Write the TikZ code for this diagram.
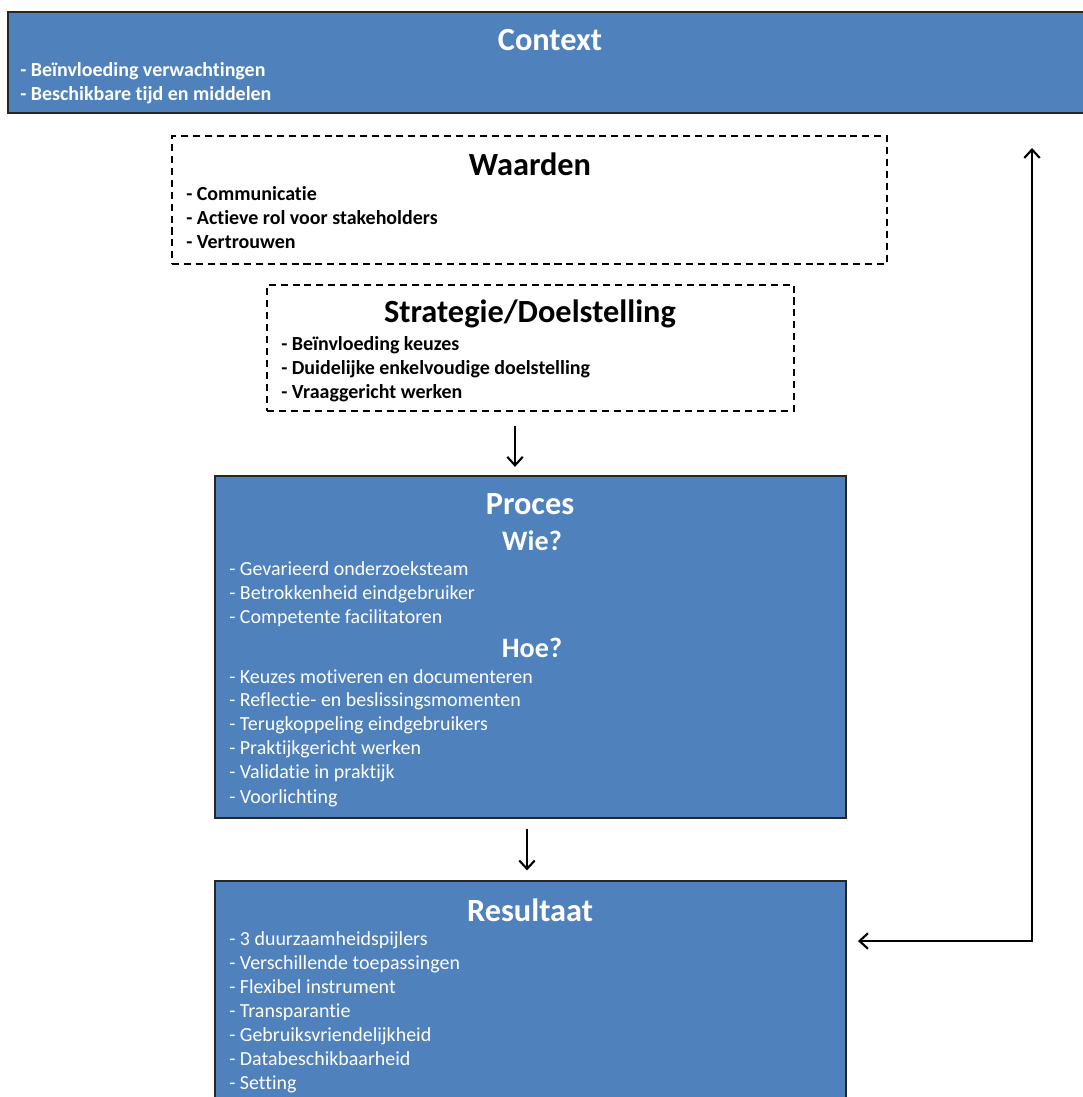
\documentclass[tikz,border=0pt]{standalone}
\usepackage{fontspec}
\setmainfont{Carlito}[Ligatures=NoCommon]
\usetikzlibrary{arrows.meta,fit}
\definecolor{boxblue}{HTML}{4F81BD}
\tikzset{
  bluebox/.style={fill=boxblue, draw=black!85, line width=1pt, inner sep=0pt},
  dashbox/.style={draw=black, line width=0.9pt, dash pattern=on 5pt off 3.5pt, inner sep=0pt},
  boxtitle/.style={inner sep=0pt, font=\bfseries\fontsize{23}{27}\selectfont},
  subtitle/.style={inner sep=0pt, font=\bfseries\fontsize{20}{24}\selectfont},
  item/.style={anchor=mid west, inner sep=0pt, yshift=-2pt, font=\fontsize{14.2}{17}\selectfont},
  bolditem/.style={item, font=\bfseries\fontsize{14.2}{17}\selectfont},
  flow/.style={-{Straight Barb[length=6pt,width=11pt,line width=1.5pt]}, line width=1.4pt},
}
\begin{document}
\begin{tikzpicture}[x=0.025cm, y=-0.025cm]
\useasboundingbox (0,0) rectangle (1083,1097);

% context
\node[bluebox, fit={(8,12) (1095,113)}] (context) {};
\node[boxtitle, white] (contextT) at (550,40) {Context};
\node[bolditem, white] (c1) at (20,70) {- Beïnvloeding verwachtingen};
\node[bolditem, white] (c2) at (20,94) {- Beschikbare tijd en middelen};

% waarden
\node[dashbox, fit={(172,136) (887,264)}] (waarden) {};
\node[boxtitle] (waardenT) at (530,164) {Waarden};
\node[bolditem] (w1) at (186,194) {- Communicatie};
\node[bolditem] (w2) at (186,218) {- Actieve rol voor stakeholders};
\node[bolditem] (w3) at (186,242) {- Vertrouwen};

% strategie
\node[dashbox, fit={(267,285) (794,411)}] (strat) {};
\node[boxtitle] (stratT) at (530,314) {Strategie/Doelstelling};
\node[bolditem] (s1) at (281,344) {- Beïnvloeding keuzes};
\node[bolditem] (s2) at (281,368) {- Duidelijke enkelvoudige doelstelling};
\node[bolditem] (s3) at (281,392) {- Vraaggericht werken};

% proces
\node[bluebox, fit={(215,476) (846,818)}] (proces) {};
\node[boxtitle, white] (procesT) at (530,504) {Proces};
\node[subtitle, white] (wie) at (532,541) {Wie?};
\node[item, white] (p1) at (229,569) {- Gevarieerd onderzoeksteam};
\node[item, white] (p2) at (229,593) {- Betrokkenheid eindgebruiker};
\node[item, white] (p3) at (229,617) {- Competente facilitatoren};
\node[subtitle, white] (hoe) at (532,648) {Hoe?};
\node[item, white] (p4) at (229,677) {- Keuzes motiveren en documenteren};
\node[item, white] (p5) at (229,700) {- Reflectie- en beslissingsmomenten};
\node[item, white] (p6) at (229,724) {- Terugkoppeling eindgebruikers};
\node[item, white] (p7) at (229,748) {- Praktijkgericht werken};
\node[item, white] (p8) at (229,772) {- Validatie in praktijk};
\node[item, white] (p9) at (229,797) {- Voorlichting};

% resultaat
\node[bluebox, fit={(215,881) (846,1110)}] (result) {};
\node[boxtitle, white] (resultT) at (530,910) {Resultaat};
\node[item, white] (r1) at (229,939) {- 3 duurzaamheidspijlers};
\node[item, white] (r2) at (229,963) {- Verschillende toepassingen};
\node[item, white] (r3) at (229,987) {- Flexibel instrument};
\node[item, white] (r4) at (229,1011) {- Transparantie};
\node[item, white] (r5) at (229,1035) {- Gebruiksvriendelijkheid};
\node[item, white] (r6) at (229,1059) {- Databeschikbaarheid};
\node[item, white] (r7) at (229,1083) {- Setting};

% arrows
\coordinate (arrA) at (515,0);
\coordinate (arrB) at (527,0);
\coordinate (loopCorner) at (1032,941);
\coordinate (loopTop) at (1032,148);
\draw[flow, shorten <=10pt, shorten >=6pt] (strat.south -| arrA) -- (proces.north -| arrA);
\draw[flow, shorten <=7pt, shorten >=7pt] (proces.south -| arrB) -- (result.north -| arrB);
\draw[flow, {Straight Barb[length=6pt,width=11pt,line width=1.5pt]}-{Straight Barb[length=6pt,width=11pt,line width=1.5pt]}, shorten <=8pt]
  (result.east |- loopCorner) -- (loopCorner) -- (loopTop);
\end{tikzpicture}
\end{document}
